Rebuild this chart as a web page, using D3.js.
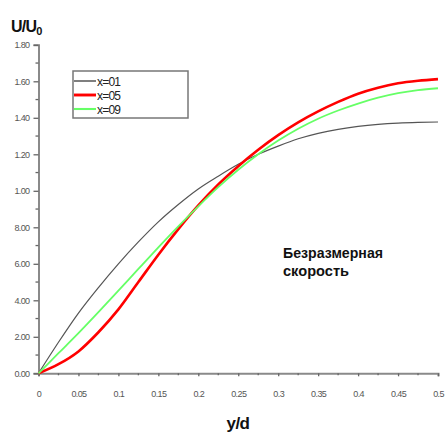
<!DOCTYPE html>
<html>
<head>
<meta charset="utf-8">
<script src="https://cdn.jsdelivr.net/npm/d3@7"></script>
<style>
  html, body { margin: 0; padding: 0; background: #fff; }
  svg { display: block; }
</style>
</head>
<body>
<svg id="chart" width="446" height="435"></svg>
<script>
// y/d positions where the profiles are sampled
const yd = [0, 0.025, 0.05, 0.075, 0.1, 0.125, 0.15, 0.175, 0.2, 0.225, 0.25,
            0.275, 0.3, 0.325, 0.35, 0.375, 0.4, 0.425, 0.45, 0.475, 0.5];

// dimensionless velocity U/U0 for each station
const u01 = [0, 0.17, 0.33, 0.47, 0.60, 0.72, 0.83, 0.925, 1.01, 1.08, 1.145,
             1.20, 1.245, 1.285, 1.315, 1.337, 1.353, 1.364, 1.371, 1.375, 1.377];
const u05 = [0, 0.05, 0.12, 0.225, 0.35, 0.50, 0.65, 0.79, 0.92, 1.035, 1.135,
             1.225, 1.305, 1.375, 1.435, 1.487, 1.532, 1.565, 1.589, 1.603, 1.612];
const u09 = [0, 0.11, 0.22, 0.335, 0.453, 0.572, 0.69, 0.805, 0.915, 1.02, 1.115,
             1.20, 1.275, 1.34, 1.395, 1.44, 1.478, 1.51, 1.535, 1.552, 1.562];

const seriesNames = ["x=01", "x=05", "x=09"];
const seriesColors = ["#555555", "#ff0000", "#66ff66"];
const seriesWidths = [1.2, 2.6, 1.8];

// axis ticks and their printed labels
const xTicks = [0, 0.05, 0.1, 0.15, 0.2, 0.25, 0.3, 0.35, 0.4, 0.45, 0.5];
const xTickLabels = ["0", "0.05", "0.1", "0.15", "0.2", "0.25", "0.3", "0.35", "0.4", "0.45", "0.5"];
const yTicks = [0, 0.2, 0.4, 0.6, 0.8, 1.0, 1.2, 1.4, 1.6, 1.8];
const yTickLabels = ["0.00", "2.00", "4.00", "6.00", "8.00", "1.00", "1.20", "1.40", "1.60", "1.80"];

const svg = d3.select("#chart");
const x = d3.scaleLinear().domain([0, 0.5]).range([38.5, 438]);
const y = d3.scaleLinear().domain([0, 1.8]).range([373.3, 44.8]);

const axisColor = "#8a8a8a";
const labelColor = "#555";
const tickFont = "Liberation Sans, Arial, sans-serif";

// Y axis
const yAxis = svg.append("g").attr("transform", `translate(${x(0)},0)`)
  .call(d3.axisLeft(y).tickValues(yTicks).tickSize(5).tickPadding(4)
    .tickFormat((d, i) => yTickLabels[i]));
yAxis.select(".domain").attr("stroke", axisColor).attr("stroke-width", 2);
yAxis.selectAll(".tick line").attr("stroke", "#666").attr("stroke-width", 1.3);
yAxis.selectAll(".tick text")
  .attr("fill", labelColor).attr("font-family", tickFont).attr("font-size", 9)
  .attr("letter-spacing", -0.6);
// minor ticks on Y
svg.append("g").selectAll("line")
  .data(d3.range(0.1, 1.8, 0.2))
  .join("line")
  .attr("x1", x(0) - 3).attr("x2", x(0))
  .attr("y1", d => y(d)).attr("y2", d => y(d))
  .attr("stroke", "#666").attr("stroke-width", 1.3);

// X axis
const xAxis = svg.append("g").attr("transform", `translate(0,${y(0)})`)
  .call(d3.axisBottom(x).tickValues(xTicks).tickSize(3).tickPadding(14)
    .tickFormat((d, i) => xTickLabels[i]));
xAxis.select(".domain").attr("stroke", axisColor).attr("stroke-width", 2);
xAxis.selectAll(".tick line").attr("stroke", "#666").attr("stroke-width", 1.3);
xAxis.selectAll(".tick text")
  .attr("fill", labelColor).attr("font-family", tickFont).attr("font-size", 9)
  .attr("letter-spacing", -0.6);
// minor ticks on X
svg.append("g").selectAll("line")
  .data(d3.range(0.025, 0.5, 0.05))
  .join("line")
  .attr("x1", d => x(d)).attr("x2", d => x(d))
  .attr("y1", y(0)).attr("y2", y(0) + 2)
  .attr("stroke", "#666").attr("stroke-width", 1.3);

// profiles
const allSeries = [u01, u05, u09];
const line = d3.line().curve(d3.curveMonotoneX);
svg.append("g").selectAll("path")
  .data(allSeries)
  .join("path")
  .attr("d", vals => line(vals.map((v, i) => [x(yd[i]), y(v)])))
  .attr("fill", "none")
  .attr("stroke", (d, i) => seriesColors[i])
  .attr("stroke-width", (d, i) => seriesWidths[i])
  .attr("stroke-linejoin", "round");

// legend
const legend = svg.append("g");
legend.append("rect")
  .attr("x", 73).attr("y", 71).attr("width", 115).attr("height", 47)
  .attr("fill", "#fff").attr("stroke", "#777").attr("stroke-width", 1.5);
seriesNames.forEach((name, i) => {
  const ly = 81 + i * 14;
  legend.append("line")
    .attr("x1", 74).attr("x2", 96).attr("y1", ly).attr("y2", ly)
    .attr("stroke", seriesColors[i]).attr("stroke-width", seriesWidths[i] + 0.3);
  legend.append("text")
    .attr("x", 97).attr("y", ly + 4.5)
    .attr("font-family", tickFont).attr("font-size", 12)
    .attr("letter-spacing", -0.8).attr("fill", "#222")
    .text(name);
});

// axis titles
const yTitle = svg.append("text")
  .attr("x", 11).attr("y", 32)
  .attr("font-family", "Liberation Sans, Arial, sans-serif")
  .attr("font-weight", "bold").attr("font-size", 16).attr("fill", "#111")
  .attr("letter-spacing", -0.8);
yTitle.append("tspan").text("U/U");
yTitle.append("tspan").attr("font-size", 11).attr("dy", 3).text("0");

svg.append("text")
  .attr("x", 238).attr("y", 429).attr("text-anchor", "middle")
  .attr("font-family", "Liberation Sans, Arial, sans-serif")
  .attr("font-weight", "bold").attr("font-size", 17).attr("fill", "#111")
  .attr("letter-spacing", -0.6)
  .text("y/d");

// annotation
const note = svg.append("text")
  .attr("font-family", "Liberation Sans, Arial, sans-serif")
  .attr("font-weight", "bold").attr("font-size", 15).attr("fill", "#111");
note.append("tspan").attr("x", 283).attr("y", 258)
  .attr("textLength", 100).attr("lengthAdjust", "spacingAndGlyphs").text("Безразмерная");
note.append("tspan").attr("x", 283).attr("y", 276)
  .attr("textLength", 66).attr("lengthAdjust", "spacingAndGlyphs").text("скорость");
</script>
</body>
</html>
